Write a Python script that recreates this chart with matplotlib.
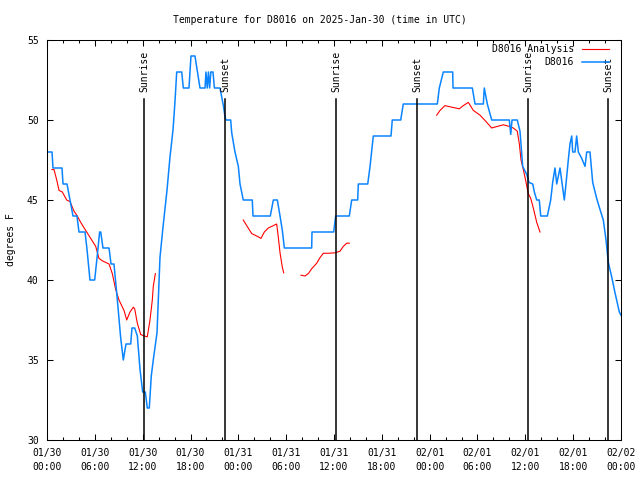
import matplotlib
matplotlib.use('Agg')
import numpy as np
import pandas as pd
import matplotlib.pyplot as plt
from matplotlib.ticker import MultipleLocator
import matplotlib.transforms as mtransforms

plt.rcParams['font.family'] = ['DejaVu Sans Mono']
FS = 7

# ------------------------------------------------------------
# DATA (hours since 2025-01-30 00:00 UTC, degrees F)
# ------------------------------------------------------------
obs_hours = [0.00, 0.63, 0.75, 1.88, 2.01, 2.51, 2.89, 3.26, 3.76, 4.01, 4.77, 5.00, 5.20, 5.39,
             5.98, 6.30, 6.60, 6.74, 7.02, 7.78, 8.03, 8.40, 8.78, 9.24, 9.57, 9.91, 10.50,
             10.66, 11.00, 11.33, 11.67, 12.00, 12.33, 12.58, 12.83, 13.08, 13.33, 13.80,
             14.17, 14.55, 15.05, 15.43, 15.81, 16.06, 16.27, 16.90, 17.10, 17.81, 18.06,
             18.56, 19.19, 19.82, 19.94, 20.10, 20.25, 20.40, 20.55, 20.82, 21.00, 21.70,
             22.12, 22.33, 22.45, 23.04, 23.17, 23.58, 24.00, 24.21, 24.62, 25.75, 25.84,
             28.01, 28.39, 28.89, 29.23, 29.52, 29.77, 33.20, 33.24, 35.96, 36.21, 37.92,
             38.22, 38.97, 39.05, 40.23, 40.52, 40.93, 43.15, 43.31, 44.37, 44.69, 48.96,
             49.21, 49.71, 50.89, 50.93, 53.35, 53.69, 54.73, 54.85, 55.23, 55.78, 57.99,
             58.17, 58.33, 58.99, 59.33, 59.67, 60.17, 60.46, 60.93, 61.13, 61.43, 61.75,
             61.93, 62.76, 63.18, 63.43, 63.72, 63.94, 64.35, 64.89, 65.10, 65.39, 65.60,
             65.82, 65.94, 66.23, 66.44, 66.65, 67.07, 67.49, 67.70, 68.11, 68.45, 68.95,
             69.37, 69.78, 70.12, 70.41, 70.83, 71.25, 71.79, 72.00]
obs_temp = [48, 48, 47, 47, 46, 46, 45, 44, 44, 43, 43, 42, 41, 40,
            40, 41.5, 43, 43, 42, 42, 41, 41, 39, 36.4, 35, 36, 36,
            37, 37, 36.5, 34.4, 33, 33, 32, 32, 34, 35, 36.7,
            41.4, 43.3, 45.6, 47.7, 49.4, 51.2, 53, 53, 52, 52, 54,
            54, 52, 52, 53, 52, 53, 52, 53, 53, 52, 52,
            50.9, 50.2, 50, 50, 49.2, 48, 47.1, 46, 45, 45, 44,
            44, 45, 45, 44, 43.1, 42, 42, 43, 43, 44, 44,
            45, 45, 46, 46, 47.1, 49, 49, 50, 50, 51, 51,
            52, 53, 53, 52, 52, 51, 51, 52, 51, 50, 50,
            49.1, 50, 50, 49.3, 47.1, 46.6, 46.1, 46, 45.5, 45, 45,
            44, 44, 45, 46.1, 47, 46, 47, 45, 46, 47.5, 48.5,
            49, 48, 48, 49, 48, 47.6, 47.1, 48, 48, 46.1, 45.1,
            44.4, 43.75, 42.5, 41.1, 40.2, 39.2, 38, 37.8]

ana_hours_1 = [0.63, 0.88, 1.22, 1.51, 1.92, 2.47, 2.89, 3.39, 3.80, 4.23, 4.85, 5.48, 6.11,
               6.52, 6.94, 7.78, 8.19, 8.62, 9.03, 9.66, 10.00, 10.41, 10.83, 11.00, 11.33,
               11.75, 12.17, 12.58, 12.92, 13.21, 13.33, 13.59]
ana_temp_1 = [46.9, 46.9, 46.25, 45.6, 45.5, 45.0, 44.9, 44.3, 44.0, 43.6, 43.1, 42.6, 42.1,
              41.35, 41.2, 41.0, 40.4, 39.4, 38.75, 38.1, 37.5, 38.0, 38.3, 38.2, 37.3,
              36.6, 36.5, 36.45, 37.5, 38.75, 39.6, 40.4]
ana_hours_2 = [24.62, 25.05, 25.68, 26.30, 26.84, 27.26, 27.76, 28.39, 28.81, 29.01, 29.23,
               29.52, 29.69]
ana_temp_2 = [43.75, 43.4, 42.9, 42.75, 42.6, 43.0, 43.25, 43.4, 43.5, 42.7, 41.7, 40.8, 40.45]
ana_hours_3 = [31.86, 32.36, 32.78, 33.20, 33.83, 34.25, 34.66, 35.29, 36.13, 36.75, 37.17,
               37.59, 37.92]
ana_temp_3 = [40.3, 40.25, 40.4, 40.7, 41.05, 41.4, 41.67, 41.67, 41.7, 41.8, 42.1, 42.3, 42.3]
ana_hours_4 = [48.88, 49.30, 49.92, 50.77, 51.72, 52.22, 52.85, 53.48, 54.32, 55.07, 55.78,
               56.49, 57.24, 57.99, 58.49, 58.99, 59.25, 59.46, 59.75, 60.05, 60.37, 60.68,
               61.00, 61.43, 61.84]
ana_temp_4 = [50.3, 50.6, 50.9, 50.8, 50.7, 50.9, 51.1, 50.6, 50.3, 49.9, 49.5, 49.6, 49.7,
              49.6, 49.5, 49.3, 48.5, 47.5, 46.9, 46.2, 45.4, 45.1, 44.5, 43.6, 43.0]

sun_hours = [12.17, 22.33, 36.25, 46.41, 60.37, 70.41]
sun_labels = ['Sunrise', 'Sunset', 'Sunrise', 'Sunset', 'Sunrise', 'Sunset']

start = pd.Timestamp('2025-01-30 00:00')
tick_hours = list(range(0, 73, 6))
tick_labels = [(start + pd.Timedelta(hours=h)).strftime('%m/%d\n%H:%M') for h in tick_hours]

# analysis segments joined with gaps
ana_hours, ana_temp = [], []
for hh, tt in [(ana_hours_1, ana_temp_1), (ana_hours_2, ana_temp_2),
               (ana_hours_3, ana_temp_3), (ana_hours_4, ana_temp_4)]:
    ana_hours += hh + [np.nan]
    ana_temp += tt + [np.nan]

# ------------------------------------------------------------
# PLOT
# ------------------------------------------------------------
fig = plt.figure(figsize=(6.4, 4.8), dpi=100)
ax = fig.add_axes([47 / 640, 40 / 480, 574 / 640, 400 / 480])

ax.plot(ana_hours, ana_temp, color='#ff0000', lw=0.8, label='D8016 Analysis')
ax.plot(obs_hours, obs_temp, color='#0a84ff', lw=1.1, label='D8016')

trans = mtransforms.blended_transform_factory(ax.transData, ax.transAxes)
for h, lab in zip(sun_hours, sun_labels):
    ax.plot([h, h], [0, 0.852], color='black', lw=1.1, transform=trans)
    ax.text(h, 0.871, lab, rotation=90, ha='center', va='bottom',
            fontsize=FS, transform=trans)

ax.set_xlim(0, 72)
ax.set_ylim(30, 55)
ax.set_xticks(tick_hours)
ax.set_xticklabels(tick_labels, fontsize=FS, linespacing=1.45)
ax.xaxis.set_minor_locator(MultipleLocator(2))
ax.yaxis.set_major_locator(MultipleLocator(5))
ax.tick_params(axis='both', which='both', direction='in', top=True, right=True,
               labelsize=FS, width=0.75)
ax.tick_params(axis='both', which='major', length=4.5)
ax.tick_params(axis='both', which='minor', length=2.5)
ax.tick_params(axis='x', pad=6)
ax.tick_params(axis='y', pad=6)
for s in ax.spines.values():
    s.set_linewidth(0.75)

fig.text(11 / 640, 0.5, 'degrees F', rotation=90, ha='center', va='center', fontsize=FS)

fig.text(0.5, 1 - 20 / 480, 'Temperature for D8016 on 2025-Jan-30 (time in UTC)',
         ha='center', va='center', fontsize=FS)

ax.legend(loc='upper right', bbox_to_anchor=(1 - 12 / 574, 1 - 4 / 400), frameon=False,
          markerfirst=False, handlelength=2.8, handletextpad=0.8,
          labelspacing=0.3, borderaxespad=0, borderpad=0, fontsize=FS)

fig.savefig('out.png', dpi=100)
